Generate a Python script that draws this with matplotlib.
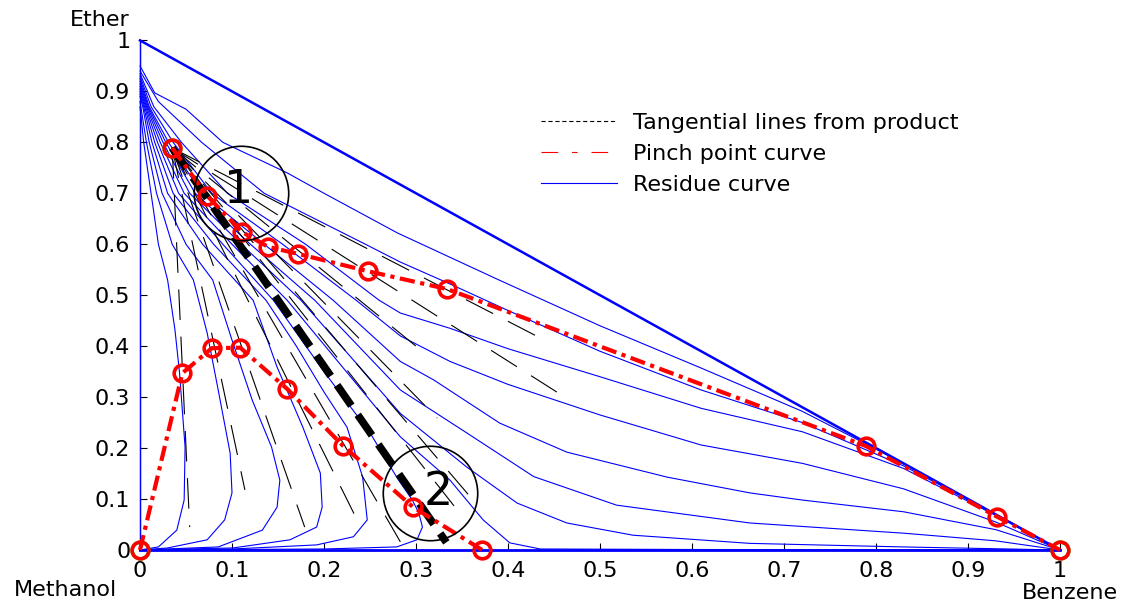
import matplotlib.pyplot as plt
from matplotlib.lines import Line2D

plt.rcParams['font.family'] = ['DejaVu Sans']
plt.rcParams['lines.scale_dashes'] = False

ticks = [0, 0.1, 0.2, 0.3, 0.4, 0.5, 0.6, 0.7, 0.8, 0.9, 1]
tick_labels = ['0', '0.1', '0.2', '0.3', '0.4', '0.5', '0.6', '0.7', '0.8', '0.9', '1']

# residue curves, right family (end at benzene)
r1_x = [0, 0.016, 0.05, 0.09, 0.16, 0.2, 0.28, 0.39, 0.5, 0.61, 0.72, 0.8, 0.9, 1]
r1_y = [0.95, 0.897, 0.865, 0.8, 0.74, 0.7, 0.622, 0.53, 0.44, 0.357, 0.272, 0.198, 0.1, 0]
r2_x = [0, 0.02, 0.067, 0.135, 0.245, 0.283, 0.337, 0.4, 0.5, 0.61, 0.72, 0.83, 0.93, 1]
r2_y = [0.94, 0.88, 0.8, 0.7, 0.6, 0.565, 0.522, 0.47, 0.39, 0.314, 0.25, 0.165, 0.07, 0]
r3_x = [0, 0.015, 0.045, 0.095, 0.18, 0.26, 0.283, 0.337, 0.4, 0.5, 0.61, 0.72, 0.83, 0.93, 1]
r3_y = [0.935, 0.87, 0.8, 0.7, 0.6, 0.49, 0.465, 0.435, 0.395, 0.34, 0.278, 0.232, 0.16, 0.068, 0]
r4_x = [0, 0.012, 0.036, 0.078, 0.155, 0.235, 0.283, 0.337, 0.4, 0.5, 0.61, 0.72, 0.83, 0.93, 1]
r4_y = [0.93, 0.87, 0.8, 0.7, 0.6, 0.49, 0.42, 0.37, 0.325, 0.265, 0.206, 0.17, 0.12, 0.055, 0]
r5_x = [0, 0.01, 0.031, 0.067, 0.135, 0.21, 0.283, 0.319, 0.391, 0.464, 0.573, 0.663, 0.72, 0.83, 0.93, 1]
r5_y = [0.925, 0.87, 0.8, 0.7, 0.6, 0.49, 0.37, 0.334, 0.249, 0.192, 0.143, 0.112, 0.098, 0.075, 0.04, 0]
r6_x = [0, 0.009, 0.028, 0.06, 0.12, 0.19, 0.283, 0.355, 0.428, 0.518, 0.663, 0.83, 0.93, 1]
r6_y = [0.92, 0.87, 0.8, 0.7, 0.6, 0.49, 0.314, 0.23, 0.144, 0.088, 0.053, 0.033, 0.018, 0]
r7_x = [0, 0.008, 0.025, 0.054, 0.11, 0.175, 0.283, 0.355, 0.41, 0.464, 0.536, 0.663, 0.83, 1]
r7_y = [0.915, 0.87, 0.8, 0.7, 0.6, 0.49, 0.268, 0.163, 0.092, 0.053, 0.029, 0.013, 0.006, 0]
r8_x = [0, 0.007, 0.022, 0.048, 0.1, 0.16, 0.283, 0.337, 0.373, 0.402, 0.435, 0.6, 1]
r8_y = [0.91, 0.87, 0.8, 0.7, 0.6, 0.49, 0.222, 0.137, 0.059, 0.014, 0.002, 0.001, 0]

# residue curves, left family (bend back to methanol)
l6_x = [0, 0.006, 0.019, 0.042, 0.09, 0.145, 0.2, 0.25, 0.28, 0.296, 0.303, 0.307, 0.301, 0.279, 0.2, 0]
l6_y = [0.905, 0.87, 0.8, 0.7, 0.6, 0.49, 0.35, 0.23, 0.14, 0.098, 0.073, 0.045, 0.02, 0.006, 0.002, 0]
l5_x = [0, 0.005, 0.016, 0.036, 0.08, 0.137, 0.17, 0.2, 0.225, 0.242, 0.247, 0.232, 0.192, 0.101, 0]
l5_y = [0.9, 0.87, 0.8, 0.7, 0.6, 0.49, 0.4, 0.31, 0.241, 0.143, 0.059, 0.026, 0.01, 0.002, 0]
l4_x = [0, 0.004, 0.013, 0.03, 0.068, 0.123, 0.149, 0.177, 0.196, 0.198, 0.192, 0.163, 0.101, 0]
l4_y = [0.895, 0.87, 0.8, 0.7, 0.6, 0.49, 0.359, 0.241, 0.151, 0.084, 0.045, 0.02, 0.004, 0]
l3_x = [0, 0.003, 0.01, 0.024, 0.05, 0.079, 0.1, 0.122, 0.143, 0.152, 0.149, 0.133, 0.085, 0]
l3_y = [0.89, 0.87, 0.8, 0.7, 0.6, 0.53, 0.412, 0.294, 0.202, 0.137, 0.084, 0.039, 0.006, 0]
l2_x = [0, 0.007, 0.018, 0.035, 0.058, 0.073, 0.085, 0.098, 0.1, 0.092, 0.073, 0.03, 0]
l2_y = [0.88, 0.8, 0.7, 0.6, 0.53, 0.426, 0.314, 0.19, 0.112, 0.059, 0.02, 0.004, 0]
l1_x = [0, 0.004, 0.012, 0.02, 0.03, 0.038, 0.043, 0.049, 0.048, 0.04, 0.02, 0]
l1_y = [0.87, 0.8, 0.7, 0.6, 0.53, 0.432, 0.347, 0.202, 0.098, 0.039, 0.006, 0]

# triangle edges: methanol-ether, methanol-benzene, benzene-ether
edge_x = [0, 0, 1, 0]
edge_y = [1, 0, 0, 1]

# product point and tangential line end points
prod_x, prod_y = 0.035, 0.789
tan_end_x = [0.054, 0.114, 0.179, 0.236, 0.283, 0.342, 0.362, 0.323, 0.30, 0.467, 0.433]
tan_end_y = [0.045, 0.118, 0.045, 0.059, 0.016, 0.085, 0.098, 0.259, 0.40, 0.294, 0.418]
main_end_x, main_end_y = 0.333, 0.015

# pinch point curves
pinch_hi_x = [0.035, 0.073, 0.111, 0.139, 0.172, 0.248, 0.334, 0.789, 0.932, 1.0]
pinch_hi_y = [0.789, 0.695, 0.624, 0.595, 0.581, 0.547, 0.512, 0.204, 0.065, 0.0]
pinch_lo_x = [0.0, 0.046, 0.078, 0.109, 0.16, 0.221, 0.297, 0.372]
pinch_lo_y = [0.0, 0.347, 0.396, 0.397, 0.316, 0.204, 0.084, 0.0]

# marked regions
mark_x = [0.1098, 0.3152]
mark_y = [0.7006, 0.1119]
mark_labels = ['1', '2']

dpi = 100
fig = plt.figure(figsize=(1135 / dpi, 601 / dpi), dpi=dpi)
ax = fig.add_axes([140 / 1135, 51 / 601, 920 / 1135, 509.6 / 601])

blue = '#0000ff'
curves = [(r1_x, r1_y), (r2_x, r2_y), (r3_x, r3_y), (r4_x, r4_y), (r5_x, r5_y),
          (r6_x, r6_y), (r7_x, r7_y), (r8_x, r8_y), (l6_x, l6_y), (l5_x, l5_y),
          (l4_x, l4_y), (l3_x, l3_y), (l2_x, l2_y), (l1_x, l1_y)]
for cx, cy in curves:
    ax.plot(cx, cy, color=blue, lw=0.8, clip_on=False, zorder=3)
ax.plot(edge_x[:2], edge_y[:2], color=blue, lw=1.0, clip_on=False, zorder=3)
ax.plot(edge_x[1:3], edge_y[1:3], color=blue, lw=2.0, clip_on=False, zorder=3)
ax.plot(edge_x[2:4], edge_y[2:4], color=blue, lw=1.8, clip_on=False, zorder=3)

for ex, ey in zip(tan_end_x, tan_end_y):
    ax.plot([prod_x, ex], [prod_y, ey], color='black', lw=0.8, dashes=(22, 12), zorder=3)
ax.plot([prod_x, main_end_x], [prod_y, main_end_y], color='black', lw=5.5, dashes=(18, 8),
        zorder=3)

ax.plot([prod_x, 0, 1], [prod_y, 0, 0], 'o', ms=12, mfc='none', mec='#00cc00', mew=2.5,
        clip_on=False, zorder=4)
red_style = dict(color='red', lw=3, dashes=(11, 4, 3, 4), marker='o', ms=12, mfc='none',
                 mec='red', mew=2.6, clip_on=False, zorder=5)
ax.plot(pinch_hi_x, pinch_hi_y, **red_style)
ax.plot(pinch_lo_x, pinch_lo_y, **red_style)

for mx, my in zip(mark_x, mark_y):
    ax.plot(mx, my, 'o', ms=68, mfc='none', mec='black', mew=1.2, zorder=6)
ax.text(0.1076, 0.706, mark_labels[0], fontsize=33, ha='center', va='center', zorder=6)
ax.text(0.324, 0.112, mark_labels[1], fontsize=33, ha='center', va='center', zorder=6)

ax.set_xlim(0, 1)
ax.set_ylim(0, 1)
ax.set_xticks(ticks)
ax.set_xticklabels(tick_labels)
ax.set_yticks(ticks)
ax.set_yticklabels(tick_labels)
ax.tick_params(direction='in', length=5, width=0.8, labelsize=16)
ax.tick_params(axis='x', pad=8)
ax.tick_params(axis='y', pad=7)
ax.spines['top'].set_visible(False)
ax.spines['right'].set_visible(False)

fig.text(100 / 1135, 1 - 20 / 601, 'Ether', fontsize=16, ha='center', va='center')
fig.text(65 / 1135, 1 - 590 / 601, 'Methanol', fontsize=16, ha='center', va='center')
fig.text(1070 / 1135, 1 - 593 / 601, 'Benzene', fontsize=16, ha='center', va='center')

handles = [Line2D([], [], color='black', lw=0.8, dashes=(3, 2)),
           Line2D([], [], color='red', lw=0.8, dashes=(12, 10, 4, 10)),
           Line2D([], [], color=blue, lw=0.8)]
labels = ['Tangential lines from product', 'Pinch point curve', 'Residue curve']
ax.legend(handles, labels, loc='upper left', bbox_to_anchor=(0.436, 0.858), frameon=False,
          fontsize=16, handlelength=3.4, handletextpad=0.75, labelspacing=0.5, borderpad=0,
          borderaxespad=0)

plt.savefig('out.png', dpi=dpi)
